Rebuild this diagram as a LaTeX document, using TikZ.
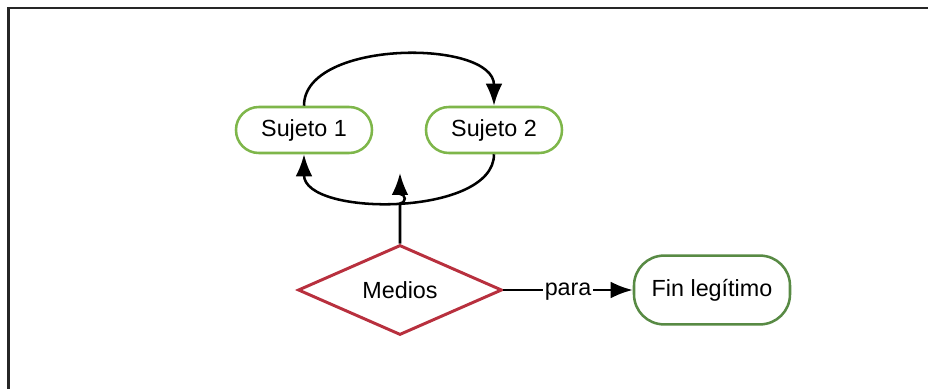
\documentclass[tikz,border=0pt]{standalone}
\usepackage{fontspec}
\setmainfont{Liberation Sans}
\usetikzlibrary{shapes.geometric,arrows.meta}

\definecolor{verdeclaro}{RGB}{126,182,74}
\definecolor{verdeosc}{RGB}{88,138,68}
\definecolor{rojo}{RGB}{184,48,62}

\tikzset{
  sujeto/.style={draw=verdeclaro, line width=1.8pt, rounded corners=0.57cm,
    minimum width=3.4cm, minimum height=1.15cm, inner sep=0pt},
  fin/.style={draw=verdeosc, line width=1.8pt, rounded corners=0.75cm,
    minimum width=3.9cm, minimum height=1.72cm, inner sep=0pt},
  medio/.style={draw=rojo, line width=2.1pt, diamond, aspect=2.3,
    minimum width=5.1cm, minimum height=2.25cm, inner sep=0pt},
  flecha/.style={line width=1.8pt, -{Latex[length=0.55cm,width=0.42cm]}}
}

\begin{document}
\begin{tikzpicture}[font=\fontsize{16.6}{20}\selectfont]
  \useasboundingbox (0,0) rectangle (23.2,9.725);
  \draw[line width=2pt, black!85] (0.21,0) -- (0.21,9.525) -- (23.2,9.525); % Marco

  \node[sujeto] (s1) at (7.6,6.475) {Sujeto 1}; % Sujeto 1
  \node[sujeto] (s2) at (12.35,6.475) {Sujeto 2}; % Sujeto 2
  \node[medio] (medios) at (10,2.475) {Medios}; % Medios
  \node[fin] (fin) at (17.8,2.475) {Fin legítimo}; % Fin legitimo
  \coordinate (tip) at (10,5.4); % Punta de la flecha vertical

  \draw[flecha] (s1.north) .. controls (7.6,8.75) and (12.35,8.75) .. (s2.north); % Arco superior
  \draw[flecha] (s2.south) .. controls (12.35,4.3) and (7.6,4.3) .. (s1.south); % Arco inferior
  \draw[flecha] (medios.north) -- ++(0,1.0)
    arc[start angle=-90, end angle=90, radius=0.12] -- (tip); % Medios hacia arriba
  \draw[flecha] (medios.east) -- node[fill=white, inner sep=1pt, yshift=-1pt] {para} (fin.west); % para
\end{tikzpicture}
\end{document}
